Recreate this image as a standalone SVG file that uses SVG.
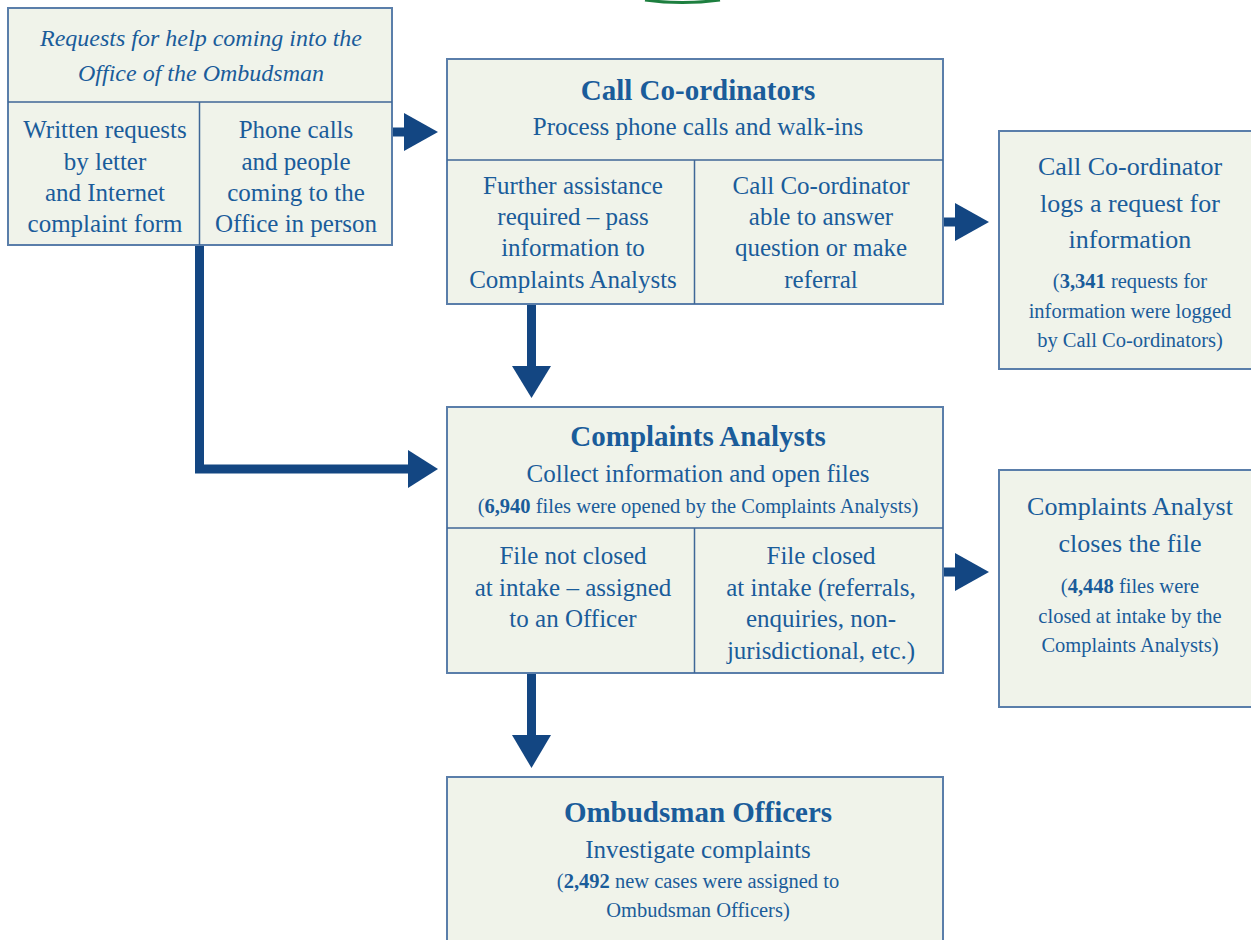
<svg xmlns="http://www.w3.org/2000/svg" width="1251" height="940" viewBox="0 0 1251 940">
<style>
.box{fill:#f0f3ea;stroke:#5a7eaa;stroke-width:2}
.div{stroke:#3f6797;stroke-width:1.5;fill:none}
text{font-family:"Liberation Serif","Times New Roman",serif;fill:#1a5c9a;text-anchor:middle}
.t{font-size:29px;font-weight:bold}
.m{font-size:25px}
.r{font-size:26px}
.s{font-size:20.5px}
.i{font-size:24px;font-style:italic}
.b{font-weight:bold}
.shaft{stroke:#134682;stroke-width:9;fill:none}
.head{fill:#134682}
</style>
<rect width="1251" height="940" fill="#ffffff"/>
<path d="M645 0 Q682 5 720 0" stroke="#1d7f3f" stroke-width="3" fill="none"/>

<g id="connectors">
  <path class="shaft" d="M392 132 H406"/>
  <polygon class="head" points="404,113 438,132 404,151"/>
  <path class="shaft" d="M943 222 H957"/>
  <polygon class="head" points="955,203 989,222 955,241"/>
  <path class="shaft" d="M531.5 304 V368"/>
  <polygon class="head" points="512,366 551,366 531.5,398"/>
  <path class="shaft" d="M199.5 245 V469 H410"/>
  <polygon class="head" points="408,450 438,469 408,488"/>
  <path class="shaft" d="M943 572 H957"/>
  <polygon class="head" points="955,553 989,572 955,591"/>
  <path class="shaft" d="M531.5 673 V737"/>
  <polygon class="head" points="512,735 551,735 531.5,768"/>
</g>

<g id="requests">
  <rect class="box" x="8" y="8" width="384" height="237"/>
  <path class="div" d="M8 102 H392 M199.5 102 V245"/>
  <text class="i" x="201" y="46">Requests for help coming into the</text>
  <text class="i" x="201" y="81">Office of the Ombudsman</text>
  <text class="m" x="105" y="138">Written requests</text>
  <text class="m" x="105" y="170">by letter</text>
  <text class="m" x="105" y="201">and Internet</text>
  <text class="m" x="105" y="232">complaint form</text>
  <text class="m" x="296" y="138">Phone calls</text>
  <text class="m" x="296" y="170">and people</text>
  <text class="m" x="296" y="201">coming to the</text>
  <text class="m" x="296" y="232">Office in person</text>
</g>

<g id="call-coordinators">
  <rect class="box" x="447" y="59" width="496" height="245"/>
  <path class="div" d="M447 160 H943 M694.5 160 V304"/>
  <text class="t" x="698" y="100">Call Co-ordinators</text>
  <text class="m" x="698" y="135">Process phone calls and walk-ins</text>
  <text class="m" x="573" y="194">Further assistance</text>
  <text class="m" x="573" y="225">required – pass</text>
  <text class="m" x="573" y="256">information to</text>
  <text class="m" x="573" y="288">Complaints Analysts</text>
  <text class="m" x="821" y="194">Call Co-ordinator</text>
  <text class="m" x="821" y="225">able to answer</text>
  <text class="m" x="821" y="256">question or make</text>
  <text class="m" x="821" y="288">referral</text>
</g>

<g id="request-logged">
  <rect class="box" x="999" y="131" width="270" height="238"/>
  <text class="r" x="1130" y="175">Call Co-ordinator</text>
  <text class="r" x="1130" y="212">logs a request for</text>
  <text class="r" x="1130" y="248">information</text>
  <text class="s" x="1130" y="288">(<tspan class="b">3,341</tspan> requests for</text>
  <text class="s" x="1130" y="318">information were logged</text>
  <text class="s" x="1130" y="347">by Call Co-ordinators)</text>
</g>

<g id="complaints-analysts">
  <rect class="box" x="447" y="407" width="496" height="266"/>
  <path class="div" d="M447 528 H943 M694.5 528 V673"/>
  <text class="t" x="698" y="446">Complaints Analysts</text>
  <text class="m" x="698" y="482">Collect information and open files</text>
  <text class="s" x="698" y="513">(<tspan class="b">6,940</tspan> files were opened by the Complaints Analysts)</text>
  <text class="m" x="573" y="564">File not closed</text>
  <text class="m" x="573" y="596">at intake – assigned</text>
  <text class="m" x="573" y="627">to an Officer</text>
  <text class="m" x="821" y="564">File closed</text>
  <text class="m" x="821" y="596">at intake (referrals,</text>
  <text class="m" x="821" y="627">enquiries, non-</text>
  <text class="m" x="821" y="659">jurisdictional, etc.)</text>
</g>

<g id="file-closed">
  <rect class="box" x="999" y="470" width="270" height="237"/>
  <text class="r" x="1130" y="515">Complaints Analyst</text>
  <text class="r" x="1130" y="552">closes the file</text>
  <text class="s" x="1130" y="593">(<tspan class="b">4,448</tspan> files were</text>
  <text class="s" x="1130" y="623">closed at intake by the</text>
  <text class="s" x="1130" y="652">Complaints Analysts)</text>
</g>

<g id="ombudsman-officers">
  <rect class="box" x="447" y="777" width="496" height="190"/>
  <text class="t" x="698" y="822">Ombudsman Officers</text>
  <text class="m" x="698" y="858">Investigate complaints</text>
  <text class="s" x="698" y="888">(<tspan class="b">2,492</tspan> new cases were assigned to</text>
  <text class="s" x="698" y="917">Ombudsman Officers)</text>
</g>
</svg>
